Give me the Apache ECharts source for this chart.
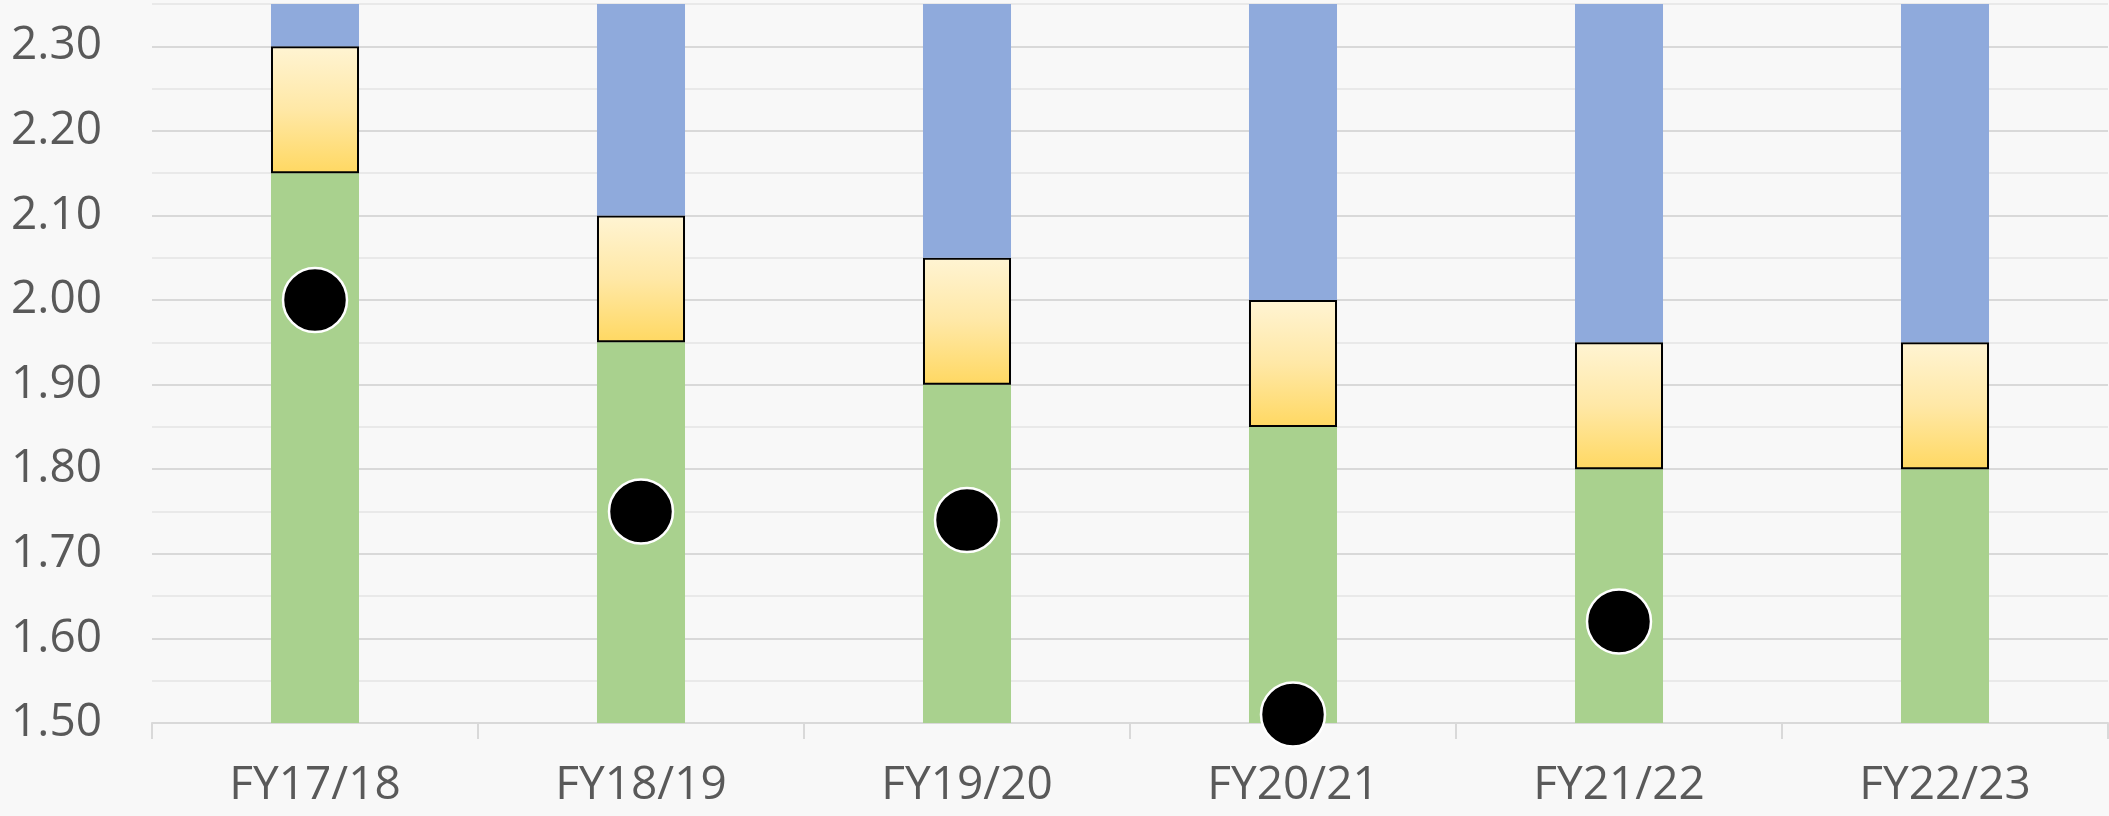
<!DOCTYPE html>
<html>
<head>
<meta charset="utf-8">
<script src="https://cdn.jsdelivr.net/npm/echarts@6/dist/echarts.min.js"></script>
<style>
  html, body { margin: 0; padding: 0; background: #f8f8f8; }
  #chart { width: 2109px; height: 816px; }
</style>
</head>
<body>
<div id="chart"></div>
<script>
const categories = ['FY17/18', 'FY18/19', 'FY19/20', 'FY20/21', 'FY21/22', 'FY22/23'];
// green base level (bars start at axis min 1.50)
const greenBase = [2.15, 1.95, 1.90, 1.85, 1.80, 1.80];
// yellow band thickness stacked on top of green
const yellowBand = [0.15, 0.15, 0.15, 0.15, 0.15, 0.15];
// blue band runs past the top of the plot
const blueBand = [0.10, 0.30, 0.35, 0.40, 0.45, 0.45];
// black dots (actuals)
const dots = [2.00, 1.75, 1.74, 1.51, 1.62, null];

const yMin = 1.5;
const yMax = 2.35;

const chart = echarts.init(document.getElementById('chart'), null, { renderer: 'canvas' });

const textColor = '#595959';
const fontFamily = '"Open Sans", "Liberation Sans", sans-serif';

const option = {
  backgroundColor: '#f8f8f8',
  animation: false,
  grid: { left: 152, right: 1, top: 4, bottom: 93 },
  xAxis: {
    type: 'category',
    data: categories,
    axisLine: { lineStyle: { color: '#d9d9d9', width: 2 } },
    axisTick: { show: true, length: 16, lineStyle: { color: '#d9d9d9', width: 2 } },
    axisLabel: { color: textColor, fontSize: 46, fontFamily: fontFamily, margin: 40 },
    splitLine: { show: false }
  },
  yAxis: {
    type: 'value',
    min: yMin,
    max: yMax,
    interval: 0.05,
    axisLine: { show: false },
    axisTick: { show: false },
    axisLabel: {
      color: textColor,
      fontSize: 46,
      fontFamily: fontFamily,
      margin: 50,
      formatter: v => (Math.round(v * 100) % 10 === 0 ? v.toFixed(2) : '')
    },
    splitLine: {
      show: true,
      lineStyle: { color: ['#d9d9d9', '#e9e9e9'], width: 2 }
    }
  },
  series: [
    {
      name: 'base',
      type: 'bar',
      stack: 'band',
      barWidth: '27%',
      clip: true,
      itemStyle: { color: '#a9d18e' },
      data: greenBase
    },
    {
      name: 'range',
      type: 'bar',
      stack: 'band',
      clip: true,
      itemStyle: {
        color: new echarts.graphic.LinearGradient(0, 0, 0, 1, [
          { offset: 0, color: '#fff4d3' },
          { offset: 0.5, color: '#ffe8a6' },
          { offset: 1, color: '#ffd862' }
        ]),
        borderColor: '#000',
        borderWidth: 2
      },
      data: yellowBand
    },
    {
      name: 'upper',
      type: 'bar',
      stack: 'band',
      clip: true,
      itemStyle: { color: '#8faadc' },
      data: blueBand
    },
    {
      name: 'actual',
      type: 'scatter',
      clip: false,
      symbol: 'circle',
      symbolSize: 64,
      itemStyle: { color: '#000', borderColor: '#fff', borderWidth: 2.5, opacity: 1 },
      z: 5,
      data: dots
    }
  ]
};

chart.setOption(option);
</script>
</body>
</html>
